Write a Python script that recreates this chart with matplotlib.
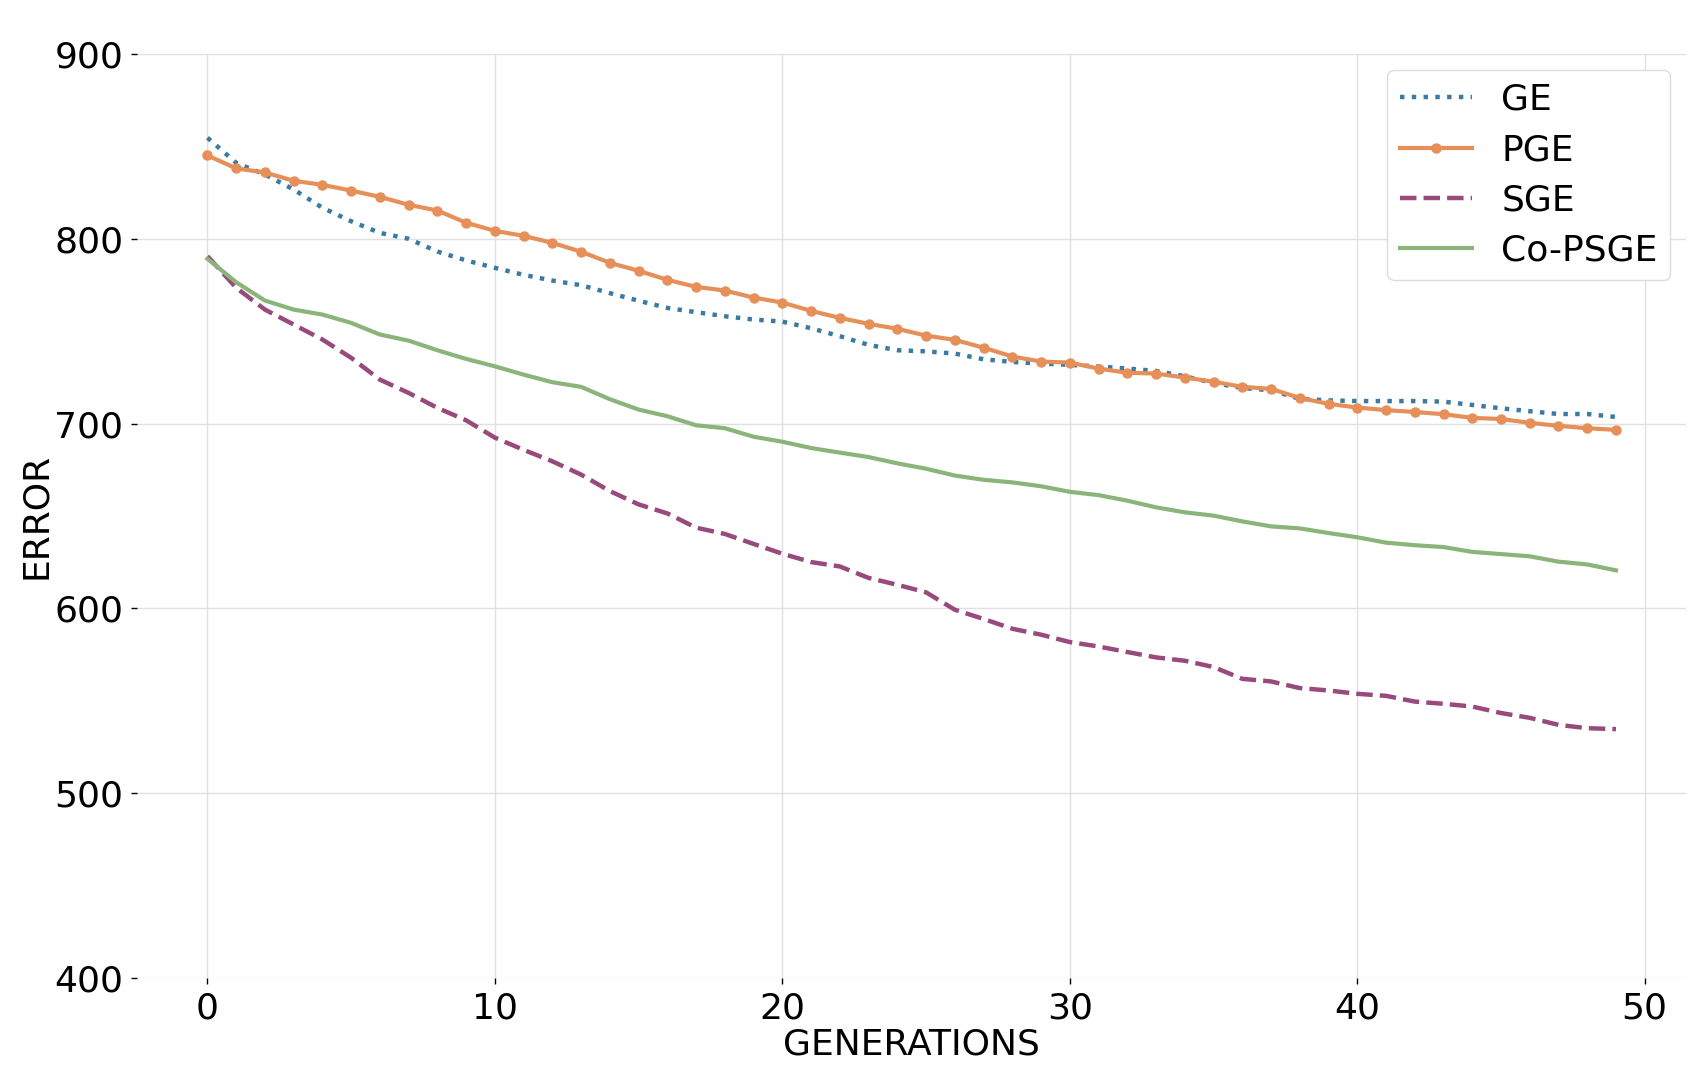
import matplotlib
matplotlib.use("Agg")
import matplotlib.pyplot as plt
import numpy as np

generations = list(range(50))

ge = [854.7, 841.1, 834.8, 826.7, 816.8, 809.5, 803.2, 800.0, 793.1, 788.3,
      784.3, 780.5, 777.4, 774.9, 770.6, 766.5, 762.6, 760.3, 758.1, 756.3,
      755.2, 751.6, 747.3, 742.6, 739.7, 739.1, 737.9, 734.8, 733.4, 732.5,
      731.8, 730.9, 729.8, 728.5, 725.6, 722.0, 719.3, 718.0, 713.4, 712.6,
      712.2, 712.2, 712.2, 711.9, 710.1, 708.3, 706.7, 705.2, 705.2, 703.6]

pge = [845.1, 838.1, 835.9, 831.4, 829.2, 826.1, 822.7, 818.4, 815.3, 808.7,
       804.3, 801.6, 797.8, 793.0, 787.0, 782.7, 777.8, 774.0, 772.0, 768.2,
       765.5, 761.0, 757.2, 754.0, 751.3, 747.6, 745.3, 741.1, 736.3, 733.6,
       733.0, 729.8, 727.5, 727.1, 724.9, 722.7, 719.9, 718.8, 713.9, 710.7,
       708.7, 707.3, 706.3, 705.1, 703.1, 702.5, 700.4, 698.8, 697.5, 696.6]

sge = [790.6, 773.5, 761.7, 753.6, 745.5, 735.6, 723.8, 716.6, 708.5, 701.8,
       692.4, 685.8, 679.6, 672.4, 663.5, 656.3, 651.4, 643.7, 640.3, 634.9,
       629.6, 625.1, 622.7, 616.5, 612.8, 608.7, 599.3, 594.3, 589.0, 585.8,
       581.8, 579.4, 576.4, 573.5, 571.7, 568.3, 561.9, 560.5, 556.9, 555.6,
       553.8, 552.7, 549.6, 548.4, 546.9, 543.4, 540.8, 537.0, 535.2, 534.7]

copsge = [789.2, 776.5, 766.6, 761.7, 759.0, 754.5, 748.2, 744.9, 739.7, 735.0,
          731.0, 726.5, 722.4, 719.9, 713.2, 707.6, 704.0, 699.1, 697.5, 692.9,
          690.2, 686.8, 684.3, 681.9, 678.5, 675.6, 671.9, 669.6, 668.2, 666.1,
          663.1, 661.3, 658.3, 654.7, 652.0, 650.2, 647.1, 644.4, 643.3, 640.8,
          638.5, 635.6, 634.2, 633.2, 630.6, 629.4, 628.2, 625.3, 623.8, 620.6]

series_names = ["GE", "PGE", "SGE", "Co-PSGE"]
colors = ["#3b7ba3", "#e68f58", "#974a7b", "#8bb47b"]

fig = plt.figure(figsize=(17, 10.8), dpi=100)
ax = fig.add_axes([0.0806, 0.0944, 0.9114, 0.8556])

ax.plot(generations, ge, linestyle=":", color=colors[0], linewidth=3.2, label=series_names[0])
ax.plot(generations, pge, linestyle="-", marker="o", markersize=6.5, color=colors[1],
        linewidth=3.0, label=series_names[1])
ax.plot(generations, sge, linestyle="--", color=colors[2], linewidth=3.2, label=series_names[2])
ax.plot(generations, copsge, linestyle="-", color=colors[3], linewidth=3.0, label=series_names[3])

ax.set_ylim(400, 900)
ax.set_xlim(-2.45, 51.45)
ax.set_xticks([0, 10, 20, 30, 40, 50])
ax.set_yticks([400, 500, 600, 700, 800, 900])

for s in ax.spines.values():
    s.set_visible(False)
ax.grid(True, color="#e0e0e0", linewidth=1.0)
ax.set_axisbelow(True)
ax.tick_params(axis="both", labelsize=26, length=4, width=1, color="black", pad=6)

ax.set_xlabel("GENERATIONS", fontsize=26, labelpad=1)
ax.set_ylabel("ERROR", fontsize=26, labelpad=1)

leg = ax.legend(loc="upper right", fontsize=26, frameon=True, fancybox=True,
                edgecolor="#dddddd", framealpha=1.0, handlelength=2.0,
                borderpad=0.35, labelspacing=0.45, handletextpad=0.8,
                borderaxespad=0.45)
leg.get_frame().set_linewidth(1.0)

fig.savefig("out.png", dpi=100)
